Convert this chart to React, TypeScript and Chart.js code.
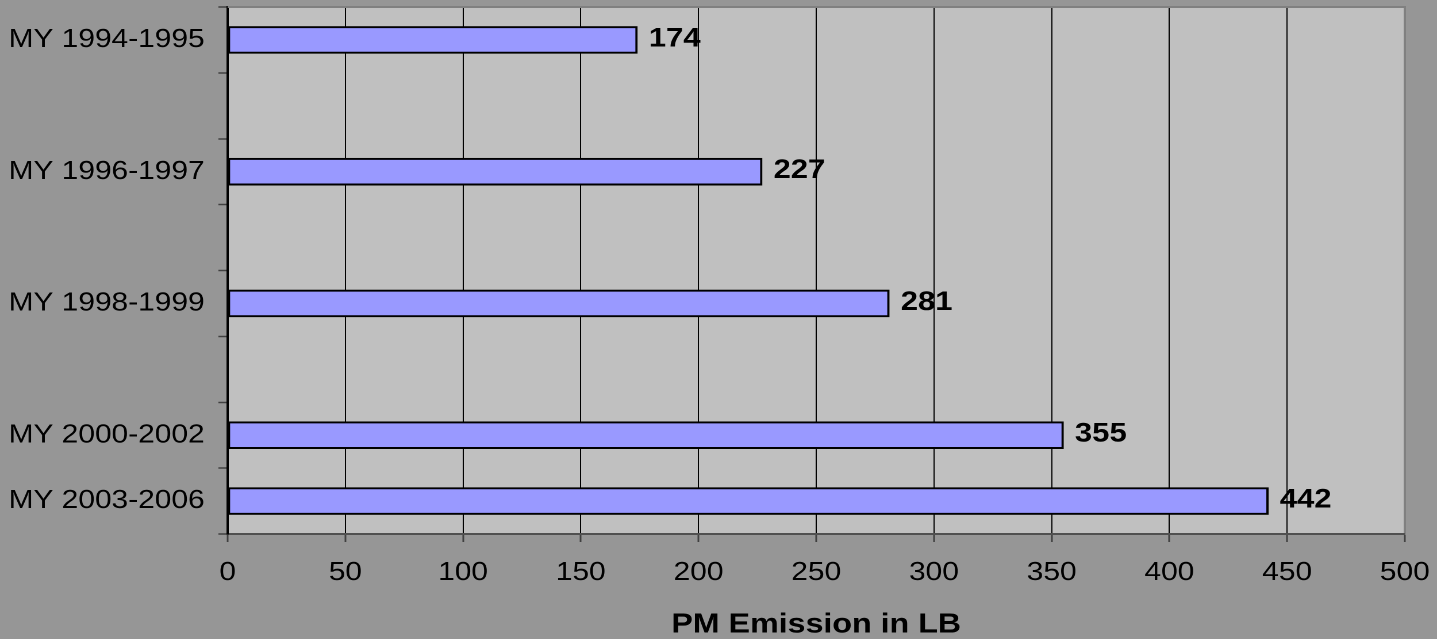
import React, { useEffect, useRef } from "react";
import { Chart, registerables } from "chart.js";

Chart.register(...registerables);

const categories: string[] = [
  "MY 1994-1995",
  "",
  "MY 1996-1997",
  "",
  "MY 1998-1999",
  "",
  "MY 2000-2002",
  "MY 2003-2006",
];
const pmEmission: (number | null)[] = [174, null, 227, null, 281, null, 355, 442];
const xTickValues: number[] = [0, 50, 100, 150, 200, 250, 300, 350, 400, 450, 500];
const axisTitle = "PM Emission in LB";

const FONT = "'Liberation Sans', Arial, sans-serif";
const LOGICAL_W = 1250;
const H = 639;

const plotBgPlugin = {
  id: "plotBg",
  beforeDraw(chart: any) {
    const { ctx, chartArea } = chart;
    if (!chartArea) return;
    ctx.save();
    ctx.fillStyle = "#C0C0C0";
    ctx.fillRect(chartArea.left, chartArea.top, chartArea.right - chartArea.left, chartArea.bottom - chartArea.top);
    ctx.restore();
  },
  beforeDatasetsDraw(chart: any) {
    const { ctx, chartArea } = chart;
    ctx.save();
    ctx.strokeStyle = "#808080";
    ctx.lineWidth = 2;
    ctx.beginPath();
    ctx.moveTo(chartArea.left, chartArea.top);
    ctx.lineTo(chartArea.right + 1, chartArea.top);
    ctx.stroke();
    ctx.restore();
  },
};

const valueLabelPlugin = {
  id: "valueLabels",
  afterDatasetsDraw(chart: any) {
    const { ctx } = chart;
    const meta = chart.getDatasetMeta(0);
    const data = chart.data.datasets[0].data as (number | null)[];
    ctx.save();
    ctx.font = `bold 27px ${FONT}`;
    ctx.fillStyle = "#000";
    ctx.textAlign = "left";
    ctx.textBaseline = "middle";
    meta.data.forEach((el: any, i: number) => {
      const v = data[i];
      if (v === null || v === undefined) return;
      ctx.fillText(String(v), el.x + 10, el.y - 1);
    });
    ctx.restore();
  },
};

export default function App() {
  const canvasRef = useRef<HTMLCanvasElement | null>(null);

  useEffect(() => {
    const canvas = canvasRef.current;
    if (!canvas) return;
    const chart = new Chart(canvas, {
      type: "bar",
      data: {
        labels: categories,
        datasets: [
          {
            data: pmEmission,
            backgroundColor: "#9999FF",
            borderColor: "#000000",
            borderWidth: 2,
            borderSkipped: false,
            barThickness: 27,
          },
        ],
      },
      options: {
        indexAxis: "y",
        responsive: false,
        maintainAspectRatio: false,
        devicePixelRatio: 2,
        animation: false,
        layout: { padding: { left: 0, right: 28, top: 7, bottom: 0 } },
        plugins: {
          legend: { display: false },
          tooltip: { enabled: false },
        },
        scales: {
          x: {
            type: "linear",
            position: "bottom",
            min: xTickValues[0],
            max: xTickValues[xTickValues.length - 1],
            afterBuildTicks(scale: any) {
              scale.ticks = xTickValues.map((v) => ({ value: v }));
            },
            afterFit(scale: any) {
              scale.height = 105;
              scale.paddingLeft = 0;
              scale.paddingRight = 0;
            },
            grid: {
              display: true,
              drawOnChartArea: true,
              drawTicks: true,
              tickLength: 8,
              color: (ctx: any) =>
                ctx.tick && ctx.tick.value === 500 ? "#808080" : "#000000",
              lineWidth: (ctx: any) => (ctx.tick && ctx.tick.value === 500 ? 2 : 1),
              tickColor: "#404040",
              tickWidth: 1.5,
            },
            border: { display: true, color: "#505050", width: 2 },
            ticks: {
              color: "#000",
              font: { family: FONT, size: 26 },
              padding: 15,
              maxRotation: 0,
              autoSkip: false,
            },
            title: {
              display: true,
              text: axisTitle,
              color: "#000",
              font: { family: FONT, size: 28, weight: "bold", lineHeight: 1 },
              padding: { top: 0, bottom: 0 },
            },
          },
          y: {
            type: "category",
            position: "left",
            offset: true,
            afterFit(scale: any) {
              scale.width = 198;
              scale.paddingTop = 0;
              scale.paddingBottom = 0;
            },
            grid: {
              display: true,
              offset: true,
              drawOnChartArea: false,
              drawTicks: true,
              tickLength: 8,
              color: "#404040",
              tickColor: "#404040",
              tickWidth: 1.5,
            },
            border: { display: true, color: "#000000", width: 2 },
            ticks: {
              color: "#000",
              font: { family: FONT, size: 26 },
              padding: 12,
              autoSkip: false,
            },
          },
        },
      },
      plugins: [plotBgPlugin, valueLabelPlugin],
    } as any);
    return () => {
      chart.destroy();
    };
  }, []);

  return (
    <div
      style={{
        position: "fixed",
        left: 0,
        top: 0,
        width: 1437,
        height: H,
        background: "#969696",
        overflow: "hidden",
      }}
    >
      <canvas
        ref={canvasRef}
        width={LOGICAL_W}
        height={H}
        style={{ width: "1437px", height: `${H}px`, display: "block" }}
      />
    </div>
  );
}
